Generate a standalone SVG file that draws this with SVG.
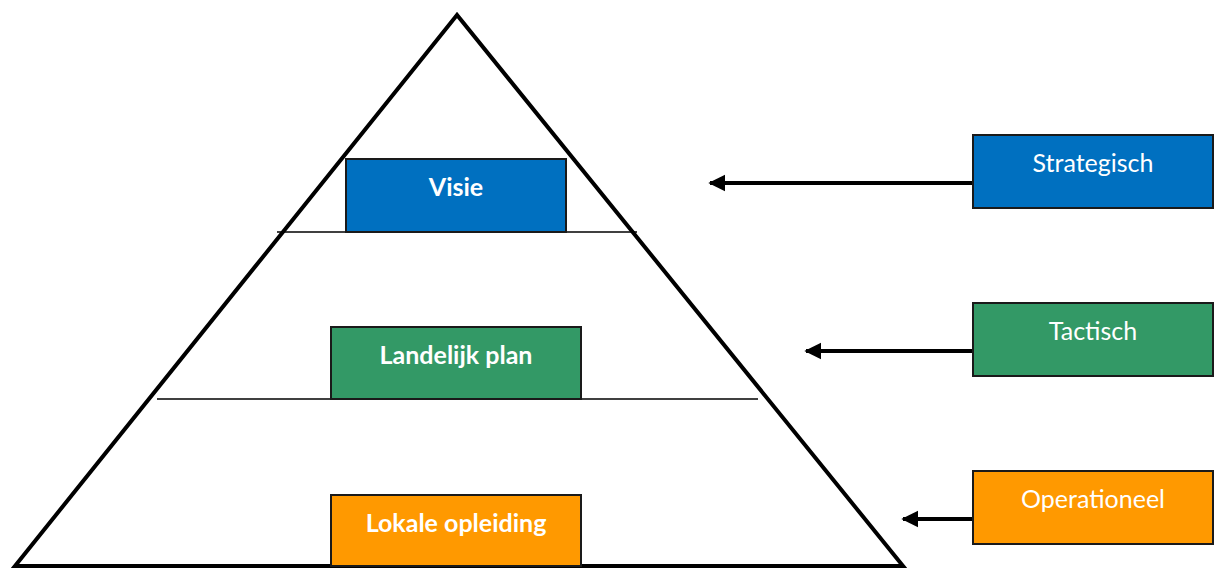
<svg xmlns="http://www.w3.org/2000/svg" width="1214" height="568" viewBox="0 0 1214 568">
  <style>
    .box { stroke: #1a1a1a; stroke-width: 2; }
    .blue { fill: #0070C0; }
    .green { fill: #339966; }
    .orange { fill: #FF9900; }
    .lbl { font-family: Lato, "Open Sans", "Liberation Sans", sans-serif; font-size: 25px; fill: #ffffff; text-anchor: middle; }
    .bold { font-weight: bold; }
    .tier { stroke: #000; stroke-width: 1.6; }
    .conn { stroke: #000; stroke-width: 4; fill: none; }
  </style>
  <defs>
    <marker id="head" viewBox="0 0 10 10" refX="9" refY="5" markerWidth="4.2" markerHeight="6.8" markerUnits="strokeWidth" orient="auto">
      <path d="M0,0 L10,5 L0,10 Z" fill="#000"/>
    </marker>
  </defs>

  <!-- pyramid outline -->
  <g id="pyramid">
    <polygon points="457,15 15,566 903,566" fill="#fff" stroke="#000" stroke-width="4" stroke-linejoin="miter"/>
    <line class="tier" x1="277" y1="232" x2="637" y2="232"/>
    <line class="tier" x1="157" y1="399" x2="758" y2="399"/>
  </g>

  <!-- levels inside the pyramid -->
  <g id="visie">
    <rect class="box blue" x="346" y="159" width="220" height="73"/>
    <text class="lbl bold" x="456" y="196">Visie</text>
  </g>
  <g id="landelijk-plan">
    <rect class="box green" x="331" y="327" width="250" height="72"/>
    <text class="lbl bold" x="456" y="364">Landelijk plan</text>
  </g>
  <g id="lokale-opleiding">
    <rect class="box orange" x="331" y="495" width="250" height="71"/>
    <text class="lbl bold" x="456" y="532">Lokale opleiding</text>
  </g>

  <!-- level labels on the right -->
  <g id="strategisch">
    <rect class="box blue" x="973" y="135" width="240" height="73"/>
    <text class="lbl" x="1093" y="172">Strategisch</text>
  </g>
  <g id="tactisch">
    <rect class="box green" x="973" y="303" width="240" height="73"/>
    <text class="lbl" x="1093" y="340">Tactisch</text>
  </g>
  <g id="operationeel">
    <rect class="box orange" x="973" y="471" width="240" height="73"/>
    <text class="lbl" x="1093" y="508">Operationeel</text>
  </g>

  <!-- connectors -->
  <g id="connectors">
    <line class="conn" x1="972" y1="183" x2="710" y2="183" marker-end="url(#head)"/>
    <line class="conn" x1="972" y1="351" x2="806" y2="351" marker-end="url(#head)"/>
    <line class="conn" x1="972" y1="519" x2="903" y2="519" marker-end="url(#head)"/>
  </g>
</svg>
